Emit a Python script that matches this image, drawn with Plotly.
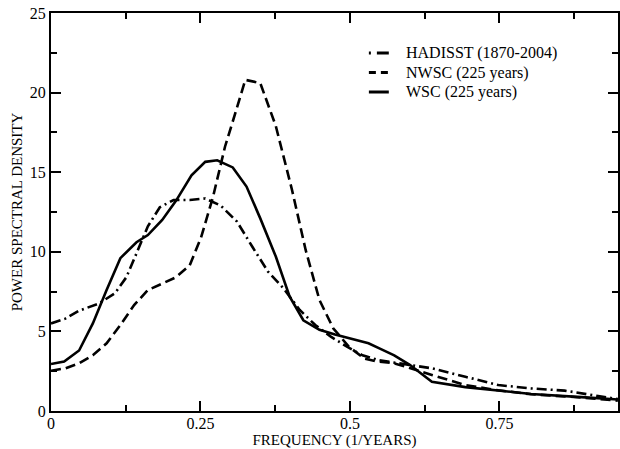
import plotly.graph_objects as go

freq_hadisst = [0, 0.024, 0.047, 0.08, 0.107, 0.126, 0.143, 0.162, 0.182, 0.205, 0.232, 0.258,
                0.284, 0.311, 0.337, 0.363, 0.389, 0.416, 0.442, 0.468, 0.495, 0.521, 0.547,
                0.574, 0.637, 0.693, 0.748, 0.803, 0.859, 0.915, 0.948]
psd_hadisst = [5.5, 5.8, 6.3, 6.75, 7.4, 8.4, 9.9, 11.6, 12.8, 13.25, 13.25, 13.35,
               12.9, 11.9, 10.3, 8.75, 7.7, 6.35, 5.4, 4.67, 4.04, 3.5, 3.2,
               3.05, 2.68, 2.15, 1.63, 1.42, 1.28, 0.94, 0.75]

freq_nwsc = [0, 0.024, 0.047, 0.07, 0.093, 0.116, 0.139, 0.162, 0.186, 0.209, 0.232, 0.251,
             0.271, 0.291, 0.309, 0.325, 0.35, 0.376, 0.403, 0.426, 0.449, 0.472, 0.498,
             0.524, 0.547, 0.574, 0.637, 0.693, 0.748, 0.803, 0.887, 0.948]
psd_nwsc = [2.53, 2.68, 3.0, 3.5, 4.25, 5.4, 6.65, 7.6, 8.0, 8.4, 9.15, 10.9,
            13.45, 16.6, 18.8, 20.8, 20.6, 17.9, 13.9, 10.1, 6.97, 5.2, 4.04,
            3.3, 3.1, 3.0, 2.26, 1.63, 1.3, 1.05, 0.85, 0.65]

freq_wsc = [0, 0.022, 0.047, 0.07, 0.093, 0.116, 0.143, 0.162, 0.186, 0.209, 0.235, 0.258,
            0.278, 0.304, 0.327, 0.35, 0.376, 0.399, 0.422, 0.449, 0.475, 0.501, 0.531,
            0.551, 0.574, 0.6, 0.637, 0.693, 0.748, 0.803, 0.887, 0.948]
psd_wsc = [2.95, 3.1, 3.8, 5.5, 7.6, 9.6, 10.6, 11.05, 12.0, 13.2, 14.8, 15.65,
           15.75, 15.3, 14.1, 12.1, 9.7, 7.2, 5.7, 5.1, 4.8, 4.55, 4.25,
           3.9, 3.5, 2.9, 1.84, 1.5, 1.27, 1.07, 0.87, 0.72]

names = ["HADISST (1870-2004)", "NWSC (225 years)", "WSC (225 years)"]
dashes = ["10px,4px,2px,4px", "10px,5px", "solid"]
legend_dashes = ["2px,6px,12px,100px", "7px,5px", "solid"]

FONT = "Liberation Serif"
W, H = 620, 449
ML, MR, MT, MB = 51, 0, 13, 38

fig = go.Figure()
for xs, ys, nm, ds in zip([freq_hadisst, freq_nwsc, freq_wsc],
                          [psd_hadisst, psd_nwsc, psd_wsc], names, dashes):
    fig.add_trace(go.Scatter(x=xs, y=ys, mode="lines", name=nm, showlegend=False,
                             line=dict(color="black", width=2.6, dash=ds)))

# manual legend (compact rows like the reference)
pw, ph = W - ML - MR, H - MT - MB
def px2paper(px, py):
    return (px - ML) / pw, 1 - (py - MT) / ph

for i, (nm, ld) in enumerate(zip(names, legend_dashes)):
    ypix = 53 + i * 19.5
    x0, y0 = px2paper(370, ypix)
    x1, _ = px2paper(390, ypix)
    xt, _ = px2paper(405, ypix)
    fig.add_shape(type="line", xref="paper", yref="paper", x0=x0, x1=x1, y0=y0, y1=y0,
                  line=dict(color="black", width=3, dash=ld))
    fig.add_annotation(xref="paper", yref="paper", x=xt, y=y0, text=nm, showarrow=False,
                       xanchor="left", yanchor="middle",
                       font=dict(family=FONT, size=16, color="black"))

axis_common = dict(showline=True, linecolor="black", linewidth=2, mirror="ticks",
                   ticks="inside", ticklen=10, tickwidth=1.5, tickcolor="black",
                   showgrid=False, zeroline=False)

fig.update_xaxes(range=[0, 0.9483], tickvals=[0, 0.25, 0.5, 0.75],
                 ticktext=["0", "0.25", "0.5", "0.75"],
                 tickfont=dict(family=FONT, size=16, color="black"),
                 ticklabelstandoff=-3,
                 minor=dict(ticks="inside", ticklen=6, tickwidth=1.5, tickcolor="black",
                            dtick=0.125, tick0=0),
                 title=dict(text="FREQUENCY (1/YEARS)", standoff=0,
                            font=dict(family=FONT, size=15, color="black")),
                 **axis_common)
fig.update_yaxes(range=[0, 25], tickvals=[0, 5, 10, 15, 20, 25],
                 tickfont=dict(family=FONT, size=16, color="black"),
                 minor=dict(ticks="inside", ticklen=6, tickwidth=1.5, tickcolor="black",
                            dtick=2.5, tick0=0),
                 title=dict(text="POWER SPECTRAL DENSITY", standoff=4,
                            font=dict(family=FONT, size=15, color="black")),
                 **axis_common)

fig.update_layout(
    width=W, height=H,
    margin=dict(l=ML, r=MR, t=MT, b=MB),
    paper_bgcolor="white", plot_bgcolor="white",
    font=dict(family=FONT, color="black"),
    showlegend=False,
)

fig.write_html("out.html")
